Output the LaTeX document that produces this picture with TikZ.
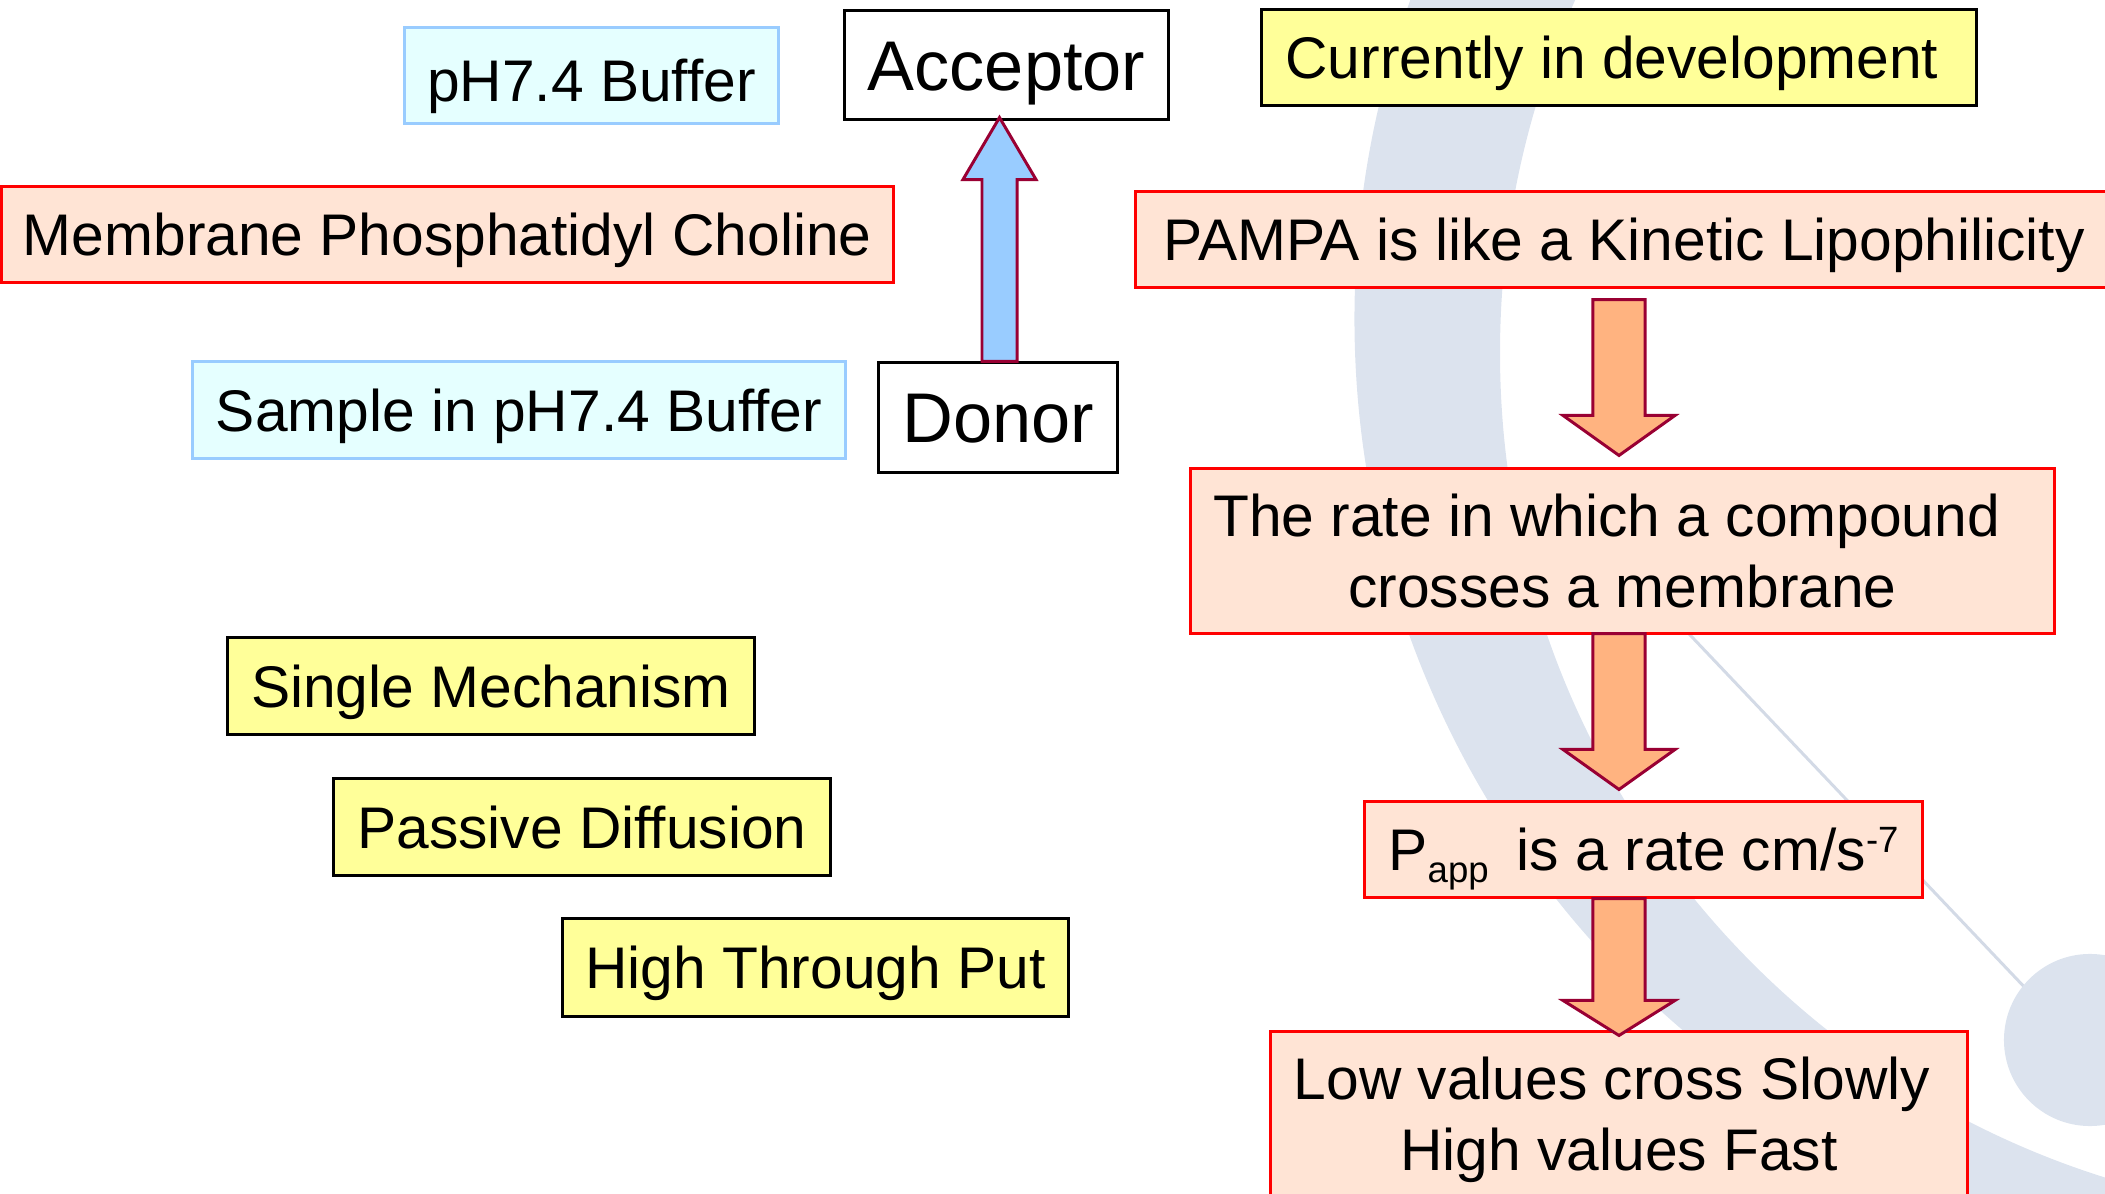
\documentclass[tikz,border=0pt]{standalone}
\usepackage{fontspec}
\setmainfont{Liberation Sans}
\usetikzlibrary{calc}
\definecolor{peach}{HTML}{FFE4D5}
\definecolor{boxred}{HTML}{FF0000}
\definecolor{paleyel}{HTML}{FFFF99}
\definecolor{palecyan}{HTML}{E5FFFF}
\definecolor{cyanedge}{HTML}{99CCFF}
\definecolor{arrowfill}{HTML}{FFB380}
\definecolor{arrowedge}{HTML}{990033}
\definecolor{skyfill}{HTML}{99CCFF}
\definecolor{arcgray}{HTML}{DCE3EE}
\definecolor{arcline}{HTML}{D3DAE6}

% block arrow pointing down: #1 style, #2 start, #3 tip, #4 shaft half width, #5 head half width, #6 head length
\newcommand\downblock[6]{%
  \draw[#1] let \p1=(#2), \p2=(#3) in
    (\x1-#4,\y1) -- (\x1+#4,\y1) -- (\x1+#4,\y2+#6) -- (\x1+#5,\y2+#6) -- (\x1,\y2)
    -- (\x1-#5,\y2+#6) -- (\x1-#4,\y2+#6) -- cycle;}
% block arrow pointing up
\newcommand\upblock[6]{%
  \draw[#1] let \p1=(#2), \p2=(#3) in
    (\x1-#4,\y1) -- (\x1+#4,\y1) -- (\x1+#4,\y2-#6) -- (\x1+#5,\y2-#6) -- (\x1,\y2)
    -- (\x1-#5,\y2-#6) -- (\x1-#4,\y2-#6) -- cycle;}
\newcommand\trail[1]{\rule{#1}{0pt}}

\tikzset{
  lbl/.style={inner sep=0pt, line width=0.85pt,
    font=\fontsize{16.7}{20.2}\selectfont, text height=11.96pt, text depth=0pt},
  cyanbox/.style={lbl, draw=cyanedge, fill=palecyan},
  redbox/.style={lbl, draw=boxred, fill=peach},
  yelbox/.style={lbl, draw=black, fill=paleyel},
  whitebox/.style={lbl, draw=black, fill=white,
    font=\fontsize{20}{24}\selectfont, text height=14.32pt},
  multi/.style={text height={}, text depth={}, align=center},
  orangearrow/.style={draw=arrowedge, fill=arrowfill, line width=0.85pt},
  bluearrow/.style={draw=arrowedge, fill=skyfill, line width=0.85pt},
}

\begin{document}
\begin{tikzpicture}[x=0.01cm,y=-0.01cm]
\useasboundingbox (0,0) rectangle (2105,1194);
\clip (0,0) rectangle (2105,1194);

% background decoration
\fill[arcgray, even odd rule] (2289,319) circle[radius=9.34cm] (2364,353) circle[radius=8.635cm];
\draw[arcline, line width=0.85pt] (1560,498) -- (2030,993);
\fill[arcgray] (2090,1040) circle[radius=0.86cm];

% boxes
\node[cyanbox, minimum width=3.73cm, minimum height=0.95cm, text height=14.81pt] (buf) at (591.5,75.5) {pH7.4 Buffer};
\node[whitebox, minimum width=3.23cm, minimum height=1.08cm] (acc) at (1006.5,65) {Acceptor};
\node[yelbox, minimum width=7.14cm, minimum height=0.95cm] (dev) at (1619,57.5) {Currently in development\trail{4pt}};
\node[redbox, minimum width=8.915cm, minimum height=0.95cm] (mem) at (447.25,234.5) {Membrane Phosphatidyl Choline};
\node[redbox, minimum width=9.76cm, minimum height=0.95cm] (pampa) at (1624,239.5) {PAMPA is like a Kinetic Lipophilicity};
\node[cyanbox, minimum width=6.52cm, minimum height=0.96cm] (sample) at (519,410) {Sample in pH7.4 Buffer};
\node[whitebox, minimum width=2.38cm, minimum height=1.09cm] (donor) at (998,417.5) {Donor};
\node[redbox, multi, minimum width=8.63cm, minimum height=1.64cm] (rate) at (1622.5,551) {The rate in which a compound\trail{9pt}\\crosses a membrane};
\node[redbox, minimum width=5.57cm, minimum height=0.95cm] (papp) at (1643.5,849.5)
  {P\raisebox{-3.4pt}{\fontsize{10.4}{12}\selectfont app}\hspace{8pt}is a rate cm/s\raisebox{5.2pt}{\fontsize{10.4}{12}\selectfont -7}};
\node[redbox, multi, minimum width=6.96cm, minimum height=1.75cm] (low) at (1619,1119.5) {Low values cross Slowly\trail{4pt}\\High values Fast};
\node[yelbox, minimum width=5.26cm, minimum height=0.96cm] (single) at (491,686) {Single Mechanism};
\node[yelbox, minimum width=4.96cm, minimum height=0.96cm] (passive) at (582,827) {Passive Diffusion};
\node[yelbox, minimum width=5.05cm, minimum height=0.97cm] (high) at (815.5,967.5) {High Through Put};

% block arrows
\upblock{bluearrow}{$(donor.north)+(1.5,0)$}{$(acc.south)+(-6.5,-3)$}{4.98pt}{10.39pt}{17.64pt}
\downblock{orangearrow}{$(pampa.south)+(-5,11)$}{$(rate.north)+(-3.5,-12)$}{7.4pt}{15.93pt}{11.38pt}
\downblock{orangearrow}{$(rate.south)+(-3.5,-1)$}{$(papp.north)+(-24.5,-11)$}{7.4pt}{15.93pt}{11.38pt}
\downblock{orangearrow}{$(papp.south)+(-24.5,0)$}{$(low.north)+(0,5)$}{7.4pt}{15.93pt}{9.96pt}
\end{tikzpicture}
\end{document}
